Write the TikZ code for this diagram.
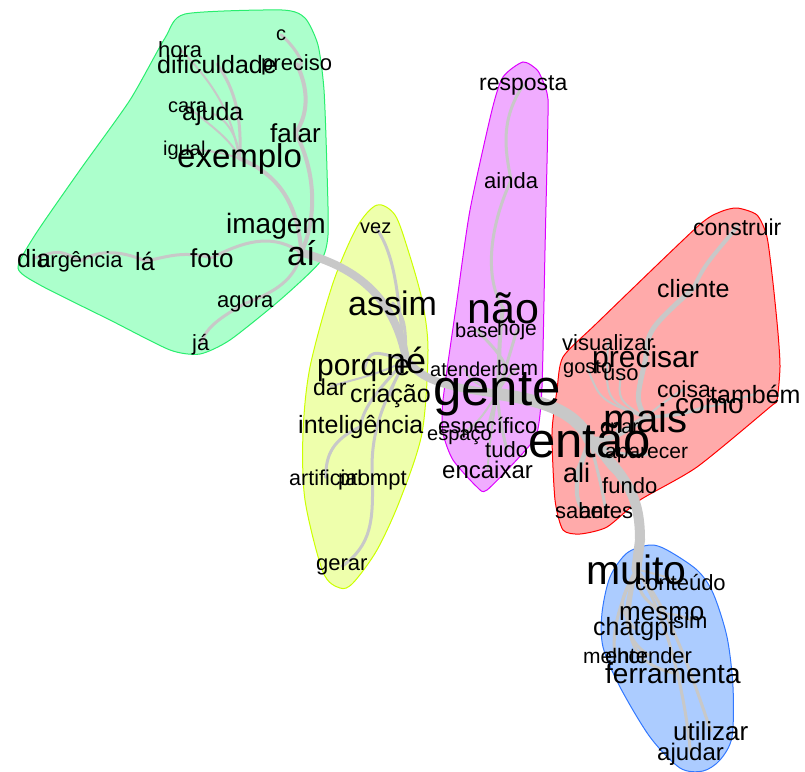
\documentclass[tikz,border=0pt]{standalone}
\usepackage{fontspec}
\setmainfont{Liberation Sans}
\pgfdeclarelayer{hulls}
\pgfdeclarelayer{edges}
\pgfsetlayers{hulls,edges,main}
\definecolor{edgegray}{RGB}{200,200,200}
\definecolor{gfill}{RGB}{172,255,204}
\definecolor{gline}{RGB}{40,238,110}
\definecolor{yfill}{RGB}{238,255,172}
\definecolor{yline}{RGB}{204,255,0}
\definecolor{mfill}{RGB}{240,172,255}
\definecolor{mline}{RGB}{221,0,255}
\definecolor{rfill}{RGB}{255,170,170}
\definecolor{rline}{RGB}{255,0,0}
\definecolor{bfill}{RGB}{172,204,255}
\definecolor{bline}{RGB}{50,120,255}
\tikzset{
  w/.style={font=\fontsize{#1}{#1}\selectfont, anchor=base west, inner sep=0pt, text=black},
  ed/.style={draw=edgegray, line width=#1, line cap=round, line join=round},
  hull/.style n args={2}{fill=#1, draw=#2, line width=1pt}
}
\begin{document}
\begin{tikzpicture}[x=1pt,y=-1pt]
\useasboundingbox (0,0) rectangle (805,771);
% ---------- hulls
\begin{pgfonlayer}{hulls}
\draw[hull={gfill}{gline}] plot[smooth cycle, tension=0.4] coordinates {(185,14) (282,10) (305,18) (318,45) (324,90) (327,170) (328,235) (320,262) (280,300) (230,340) (200,354) (170,350) (110,320) (40,285) (18,268) (35,235) (80,170) (130,100) (165,38)};
\draw[hull={yfill}{yline}] plot[smooth cycle, tension=0.5] coordinates {(377,205) (395,215) (408,250) (422,300) (428,350) (422,433) (400,500) (377,550) (353,583) (340,588) (323,572) (305,500) (303,433) (310,367) (333,283) (357,227)};
\draw[hull={mfill}{mline}] plot[smooth cycle, tension=0.4] coordinates {(523,62) (538,71) (547,93) (548,115) (545,250) (542,387) (537,433) (523,453) (487,490) (477,487) (453,460) (443,433) (443,400) (457,300) (470,210) (492,110) (503,77)};
\draw[hull={rfill}{rline}] plot[smooth cycle, tension=0.4] coordinates {(737,208) (757,215) (767,237) (773,283) (778,333) (780,367) (777,400) (770,407) (697,467) (640,500) (607,527) (580,534) (563,530) (555,500) (552,433) (557,390) (563,357) (597,323) (697,227) (720,212)};
\draw[hull={bfill}{bline}] plot[smooth cycle, tension=0.5] coordinates {(650,545) (667,550) (697,570) (713,593) (727,637) (733,687) (732,737) (720,760) (703,771) (680,768) (650,737) (620,687) (603,647) (602,613) (610,577) (627,553)};
\end{pgfonlayer}
% ---------- words: green
\node[w=20] (c) at (276,40) {c};
\node[w=22] (hora) at (158,57) {hora};
\node[w=25] (dificuldade) at (157,73) {dificuldade};
\node[w=22] (preciso) at (261,70) {preciso};
\node[w=20] (cara) at (168,112) {cara};
\node[w=25] (ajuda) at (182,120) {ajuda};
\node[w=26] (falar) at (270,142) {falar};
\node[w=20] (igual) at (163,155) {igual};
\node[w=33] (exemplo) at (177,167) {exemplo};
\node[w=28] (imagem) at (226,233) {imagem};
\node[w=34] (ai) at (287,265) {aí};
\node[w=25] (dia) at (17,267) {dia};
\node[w=22] (urgencia) at (38,267) {urgência};
\node[w=25] (la) at (135,270) {lá};
\node[w=26] (foto) at (190,267) {foto};
\node[w=22] (agora) at (217,307) {agora};
\node[w=22] (ja) at (192,350) {já};
% yellow
\node[w=20] (vez) at (360,233) {vez};
\node[w=34] (assim) at (348,315) {assim};
\node[w=30] (porque) at (317,375) {porque};
\node[w=36] (ne) at (386,373) {né};
\node[w=23] (dar) at (313,395) {dar};
\node[w=25] (criacao) at (350,402) {criação};
\node[w=25] (inteligencia) at (298,433) {inteligência};
\node[w=21.5] (artificial) at (289,485) {artificial};
\node[w=22] (prompt) at (338,485) {prompt};
\node[w=22] (gerar) at (316,570) {gerar};
% magenta
\node[w=23] (resposta) at (479,90) {resposta};
\node[w=22] (ainda) at (484,188) {ainda};
\node[w=43] (nao) at (467,323) {não};
\node[w=20] (base) at (455,337) {base};
\node[w=21] (hoje) at (497,335) {hoje};
\node[w=20] (atender) at (430,376) {atender};
\node[w=21] (bem) at (497,375) {bem};
\node[w=51] (gente) at (433,405) {gente};
\node[w=20] (espaco) at (427,440) {espaço};
\node[w=22] (especifico) at (438,433) {específico};
\node[w=22] (tudo) at (485,457) {tudo};
\node[w=24] (encaixar) at (442,478) {encaixar};
% red
\node[w=23] (construir) at (693,235) {construir};
\node[w=25] (cliente) at (657,297) {cliente};
\node[w=22] (visualizar) at (562,350) {visualizar};
\node[w=20] (gosto) at (563,373) {gosto};
\node[w=30] (precisar) at (592,367) {precisar};
\node[w=22] (uso) at (603,380) {uso};
\node[w=23] (coisa) at (657,397) {coisa};
\node[w=28] (como) at (675,413) {como};
\node[w=25] (tambem) at (710,403) {também};
\node[w=40] (mais) at (603,432) {mais};
\node[w=20] (criar) at (600,433) {criar};
\node[w=49] (entao) at (528,457) {então};
\node[w=21] (aparecer) at (605,458) {aparecer};
\node[w=27] (ali) at (563,482) {ali};
\node[w=22] (fundo) at (602,493) {fundo};
\node[w=22] (saber) at (555,518) {saber};
\node[w=22] (antes) at (579,518) {antes};
% blue
\node[w=41] (muito) at (586,584) {muito};
\node[w=22] (conteudo) at (635,590) {conteúdo};
\node[w=26] (mesmo) at (619,620) {mesmo};
\node[w=25] (chatgpt) at (593,635) {chatgpt};
\node[w=22] (sim) at (673,628) {sim};
\node[w=21] (melhor) at (583,663) {melhor};
\node[w=22] (entender) at (605,663) {entender};
\node[w=28] (ferramenta) at (605,683) {ferramenta};
\node[w=26] (utilizar) at (673,740) {utilizar};
\node[w=24] (ajudar) at (657,760) {ajudar};
% ---------- edges
\begin{pgfonlayer}{edges}
% green
\draw[ed=3] (c.center) .. controls (298,50) and (308,70) .. (preciso.center);
\draw[ed=4] (preciso.center) .. controls (312,95) and (305,120) .. (falar.center);
\draw[ed=4] (falar.center) .. controls (315,170) and (318,215) .. (ai.center);
\draw[ed=4] (exemplo.center) .. controls (280,175) and (298,205) .. (ai.center);
\draw[ed=3] (exemplo.center) .. controls (242,120) and (236,90) .. (dificuldade.center);
\draw[ed=2] (exemplo.center) .. controls (232,120) and (222,92) .. (hora.center);
\draw[ed=2] (exemplo.center) .. controls (238,135) and (225,118) .. (ajuda.center);
\draw[ed=2] (exemplo.center) .. controls (232,140) and (210,125) .. (cara.center);
\draw[ed=2] (exemplo.center) .. controls (215,150) and (200,150) .. (igual.center);
\draw[ed=3] (ai.center) .. controls (275,235) and (250,238) .. (foto.center);
\draw[ed=3] (foto.center) .. controls (180,250) and (165,258) .. (la.center);
\draw[ed=3] (la.center) .. controls (125,252) and (100,248) .. (urgencia.center);
\draw[ed=3] (urgencia.center) .. controls (60,250) .. (dia.center);
\draw[ed=3] (ai.center) .. controls (295,280) and (275,292) .. (agora.center);
\draw[ed=3] (agora.center) .. controls (215,320) and (205,330) .. (ja.center);
% yellow
\draw[ed=8] (ai.center) .. controls (360,268) and (395,300) .. (ne.center);
\draw[ed=3] (vez.center) .. controls (400,260) and (398,320) .. (ne.center);
\draw[ed=3] (assim.center) .. controls (405,320) .. (ne.center);
\draw[ed=3] (porque.center) .. controls (370,350) .. (ne.center);
\draw[ed=2] (ne.center) .. controls (380,375) and (350,380) .. (dar.center);
\draw[ed=2] (ne.center) .. controls (395,380) .. (criacao.center);
\draw[ed=3] (ne.center) .. controls (372,395) and (362,412) .. (inteligencia.center);
\draw[ed=3] (inteligencia.center) .. controls (332,440) and (326,455) .. (artificial.center);
\draw[ed=3] (ne.center) .. controls (378,410) and (370,440) .. (prompt.center);
\draw[ed=3] (prompt.center) .. controls (373,520) and (372,545) .. (gerar.center);
% magenta
\draw[ed=8] (ne.center) .. controls (420,375) and (430,385) .. (gente.center);
\draw[ed=3] (resposta.center) .. controls (500,120) and (505,150) .. (ainda.center);
\draw[ed=3] (ainda.center) .. controls (488,230) and (485,280) .. (nao.center);
\draw[ed=4] (gente.center) .. controls (500,370) and (498,340) .. (nao.center);
\draw[ed=3] (gente.center) .. controls (505,370) .. (hoje.center);
\draw[ed=3] (gente.center) .. controls (510,365) .. (base.center);
\draw[ed=2] (gente.center) .. controls (505,380) .. (bem.center);
\draw[ed=2] (gente.center) .. controls (470,380) .. (atender.center);
\draw[ed=3] (gente.center) .. controls (500,420) .. (tudo.center);
\draw[ed=3] (gente.center) .. controls (490,420) .. (especifico.center);
\draw[ed=2] (gente.center) .. controls (480,420) .. (espaco.center);
\draw[ed=2] (gente.center) .. controls (490,440) .. (encaixar.center);
% red
\draw[ed=12] (gente.center) .. controls (540,400) and (575,410) .. (entao.center);
\draw[ed=6] (entao.center) .. controls (610,440) .. (mais.center);
\draw[ed=5] (mais.center) .. controls (636,400) .. (precisar.center);
\draw[ed=5] (precisar.center) .. controls (648,330) .. (cliente.center);
\draw[ed=4] (cliente.center) .. controls (705,265) .. (construir.center);
\draw[ed=2] (mais.center) .. controls (605,400) .. (visualizar.center);
\draw[ed=2] (mais.center) .. controls (600,400) .. (gosto.center);
\draw[ed=2] (mais.center) .. controls (618,400) .. (uso.center);
\draw[ed=2] (mais.center) .. controls (660,405) .. (coisa.center);
\draw[ed=3] (mais.center) .. controls (680,415) .. (como.center);
\draw[ed=2] (mais.center) .. controls (700,410) .. (tambem.center);
\draw[ed=2] (entao.center) .. controls (612,440) .. (criar.center);
\draw[ed=3] (entao.center) .. controls (620,455) .. (aparecer.center);
\draw[ed=4] (entao.center) .. controls (580,465) .. (ali.center);
\draw[ed=3] (entao.center) .. controls (610,470) .. (fundo.center);
\draw[ed=4] (entao.center) .. controls (580,470) and (570,490) .. (saber.center);
\draw[ed=3] (entao.center) .. controls (600,480) .. (antes.center);
% blue
\draw[ed=10] (entao.center) .. controls (630,480) and (640,500) .. (640,540) -- (muito.center);
\draw[ed=2] (muito.center) .. controls (660,575) .. (conteudo.center);
\draw[ed=3] (muito.center) .. controls (640,595) .. (mesmo.center);
\draw[ed=3] (muito.center) .. controls (618,605) .. (chatgpt.center);
\draw[ed=2] (mesmo.center) .. controls (680,615) .. (sim.center);
\draw[ed=3] (muito.center) .. controls (615,610) and (612,640) .. (melhor.center);
\draw[ed=3] (muito.center) .. controls (620,615) and (625,640) .. (entender.center);
\draw[ed=3] (muito.center) .. controls (625,620) and (620,660) .. (ferramenta.center);
\draw[ed=3] (muito.center) .. controls (670,610) and (690,670) .. (utilizar.center);
\draw[ed=3] (muito.center) .. controls (665,610) and (685,690) .. (ajudar.center);
\end{pgfonlayer}
\end{tikzpicture}
\end{document}
